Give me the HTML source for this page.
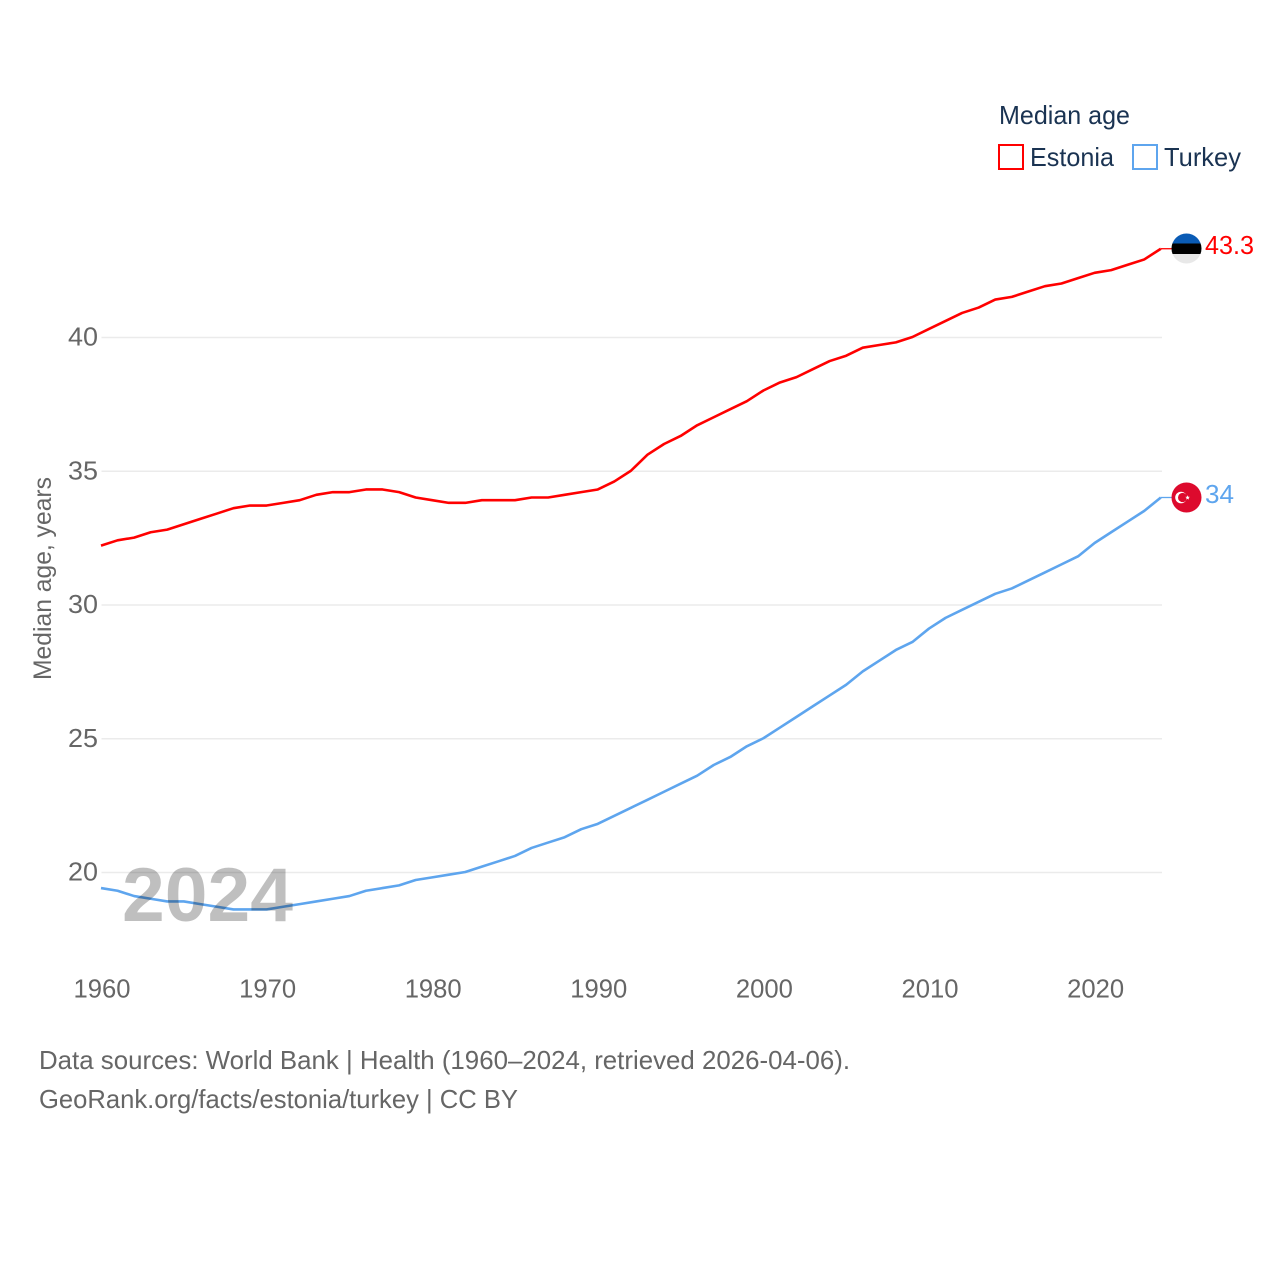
<!DOCTYPE html>
<html>
<head>
<meta charset="utf-8">
<title>Median age: Estonia and Turkey</title>
<style>
html,body{margin:0;padding:0;background:#fff;width:1280px;height:1280px;overflow:hidden}
svg{display:block}
text{font-family:"Liberation Sans",sans-serif}
</style>
</head>
<body>
<svg id="chart" width="1280" height="1280" viewBox="0 0 1280 1280" xmlns="http://www.w3.org/2000/svg">
  <g id="grid"></g>
  <g id="yticks"></g>
  <g id="xticks"></g>
  <text transform="translate(51,680) rotate(-90)" font-size="25" fill="#666" textLength="203" lengthAdjust="spacingAndGlyphs">Median age, years</text>
  <g id="series" transform="translate(-0.5,-0.5)"></g>
  <g>
    <clipPath id="ee"><circle cx="1186.5" cy="248.5" r="15"/></clipPath>
    <g clip-path="url(#ee)">
      <rect x="1171" y="233" width="31" height="10.5" fill="#0a5bb5"/>
      <rect x="1171" y="243.5" width="31" height="10.5" fill="#000"/>
      <rect x="1171" y="254" width="31" height="10.5" fill="#e8e8e8"/>
    </g>
  </g>
  <g>
    <circle cx="1186.5" cy="497.5" r="15" fill="#dd0a2d"/>
    <circle cx="1181" cy="497.5" r="5.8" fill="#fff"/>
    <circle cx="1182.6" cy="497.5" r="4.6" fill="#dd0a2d"/>
    <polygon points="1187.6,495.2 1188.2,496.8 1189.9,496.9 1188.6,497.9 1189,499.6 1187.6,498.7 1186.2,499.6 1186.6,497.9 1185.3,496.9 1187,496.8" fill="#fff"/>
  </g>
  <text id="ee-val" x="1205" y="254" font-size="26" fill="#f00" textLength="49" lengthAdjust="spacingAndGlyphs"></text>
  <text id="tr-val" x="1205" y="503" font-size="26" fill="#5ea5ee" textLength="29" lengthAdjust="spacingAndGlyphs"></text>
  <g>
    <text x="999" y="124" font-size="26" fill="#1a3352" textLength="131" lengthAdjust="spacingAndGlyphs">Median age</text>
    <rect x="999" y="145" width="24" height="24" fill="#fff" stroke="#f00" stroke-width="2"/>
    <text x="1030" y="166" font-size="26" fill="#1a3352" textLength="84" lengthAdjust="spacingAndGlyphs">Estonia</text>
    <rect x="1133" y="145" width="24" height="24" fill="#fff" stroke="#5ea5ee" stroke-width="2"/>
    <text x="1164" y="166" font-size="26" fill="#1a3352" textLength="77" lengthAdjust="spacingAndGlyphs">Turkey</text>
  </g>
  <text x="122" y="921" font-size="76" font-weight="bold" fill="#000" fill-opacity="0.25" textLength="171" lengthAdjust="spacingAndGlyphs">2024</text>
  <text x="39" y="1069" font-size="26" fill="#666" textLength="811" lengthAdjust="spacingAndGlyphs">Data sources: World Bank | Health (1960–2024, retrieved 2026-04-06).</text>
  <text x="39" y="1108" font-size="26" fill="#666" textLength="479" lengthAdjust="spacingAndGlyphs">GeoRank.org/facts/estonia/turkey | CC BY</text>
</svg>
<script>
const startYear = 1960;
const estoniaValues = [32.2,32.4,32.5,32.7,32.8,33.0,33.2,33.4,33.6,33.7,33.7,33.8,33.9,34.1,34.2,34.2,34.3,34.3,34.2,34.0,33.9,33.8,33.8,33.9,33.9,33.9,34.0,34.0,34.1,34.2,34.3,34.6,35.0,35.6,36.0,36.3,36.7,37.0,37.3,37.6,38.0,38.3,38.5,38.8,39.1,39.3,39.6,39.7,39.8,40.0,40.3,40.6,40.9,41.1,41.4,41.5,41.7,41.9,42.0,42.2,42.4,42.5,42.7,42.9,43.3];
const turkeyValues = [19.4,19.3,19.1,19.0,18.9,18.9,18.8,18.7,18.6,18.6,18.6,18.7,18.8,18.9,19.0,19.1,19.3,19.4,19.5,19.7,19.8,19.9,20.0,20.2,20.4,20.6,20.9,21.1,21.3,21.6,21.8,22.1,22.4,22.7,23.0,23.3,23.6,24.0,24.3,24.7,25.0,25.4,25.8,26.2,26.6,27.0,27.5,27.9,28.3,28.6,29.1,29.5,29.8,30.1,30.4,30.6,30.9,31.2,31.5,31.8,32.3,32.7,33.1,33.5,34.0];
const yTicks = [20,25,30,35,40];
const xTicks = [1960,1970,1980,1990,2000,2010,2020];

const NS = 'http://www.w3.org/2000/svg';
function xScale(year){ return 101.5 + (year - 1960) * 16.56; }
function yScale(v){ return 872.5 - (v - 20) * 26.75; }
function make(tag, parent, attrs){
  const el = document.createElementNS(NS, tag);
  for (const k in attrs) el.setAttribute(k, attrs[k]);
  parent.appendChild(el);
  return el;
}
const grid = document.getElementById('grid');
const yG = document.getElementById('yticks');
const xG = document.getElementById('xticks');
const seriesG = document.getElementById('series');

yTicks.forEach(function(t){
  const line = make('line', grid, {x1:101.5, x2:1162, y1:yScale(t), y2:yScale(t), stroke:'#ebebeb', 'stroke-width':1.5});
  
  
  const label = make('text', yG, {x:68, y:yScale(t)+8, 'font-size':26, fill:'#666', textLength:30, lengthAdjust:'spacingAndGlyphs'});
  
  
  label.textContent = t;
});
xTicks.forEach(function(t){
  const label = make('text', xG, {x:xScale(t)+0.5, y:997.5, 'text-anchor':'middle', 'font-size':26, fill:'#666', textLength:57, lengthAdjust:'spacingAndGlyphs'});
  
  
  label.textContent = t;
});
function drawSeries(values, color, name){
  const pts = values.map(function(v, i){ return xScale(startYear + i).toFixed(2) + ',' + yScale(v).toFixed(2); });
  const path = make('polyline', seriesG, {points:pts.join(' '), fill:'none', stroke:color, 'stroke-width':2.6, 'stroke-linejoin':'round'});
  
  
  const lastV = values[values.length - 1];
  const lastX = xScale(startYear + values.length - 1);
  const conn = make('line', seriesG, {x1:lastX, x2:1172, y1:yScale(lastV), y2:yScale(lastV), stroke:color, 'stroke-width':1.3});
  
  
}
drawSeries(estoniaValues, '#ff0000', 'estonia');
drawSeries(turkeyValues, '#5ea5ee', 'turkey');
document.getElementById('ee-val').textContent = estoniaValues[estoniaValues.length - 1];
document.getElementById('tr-val').textContent = turkeyValues[turkeyValues.length - 1];
</script>
</body>
</html>
